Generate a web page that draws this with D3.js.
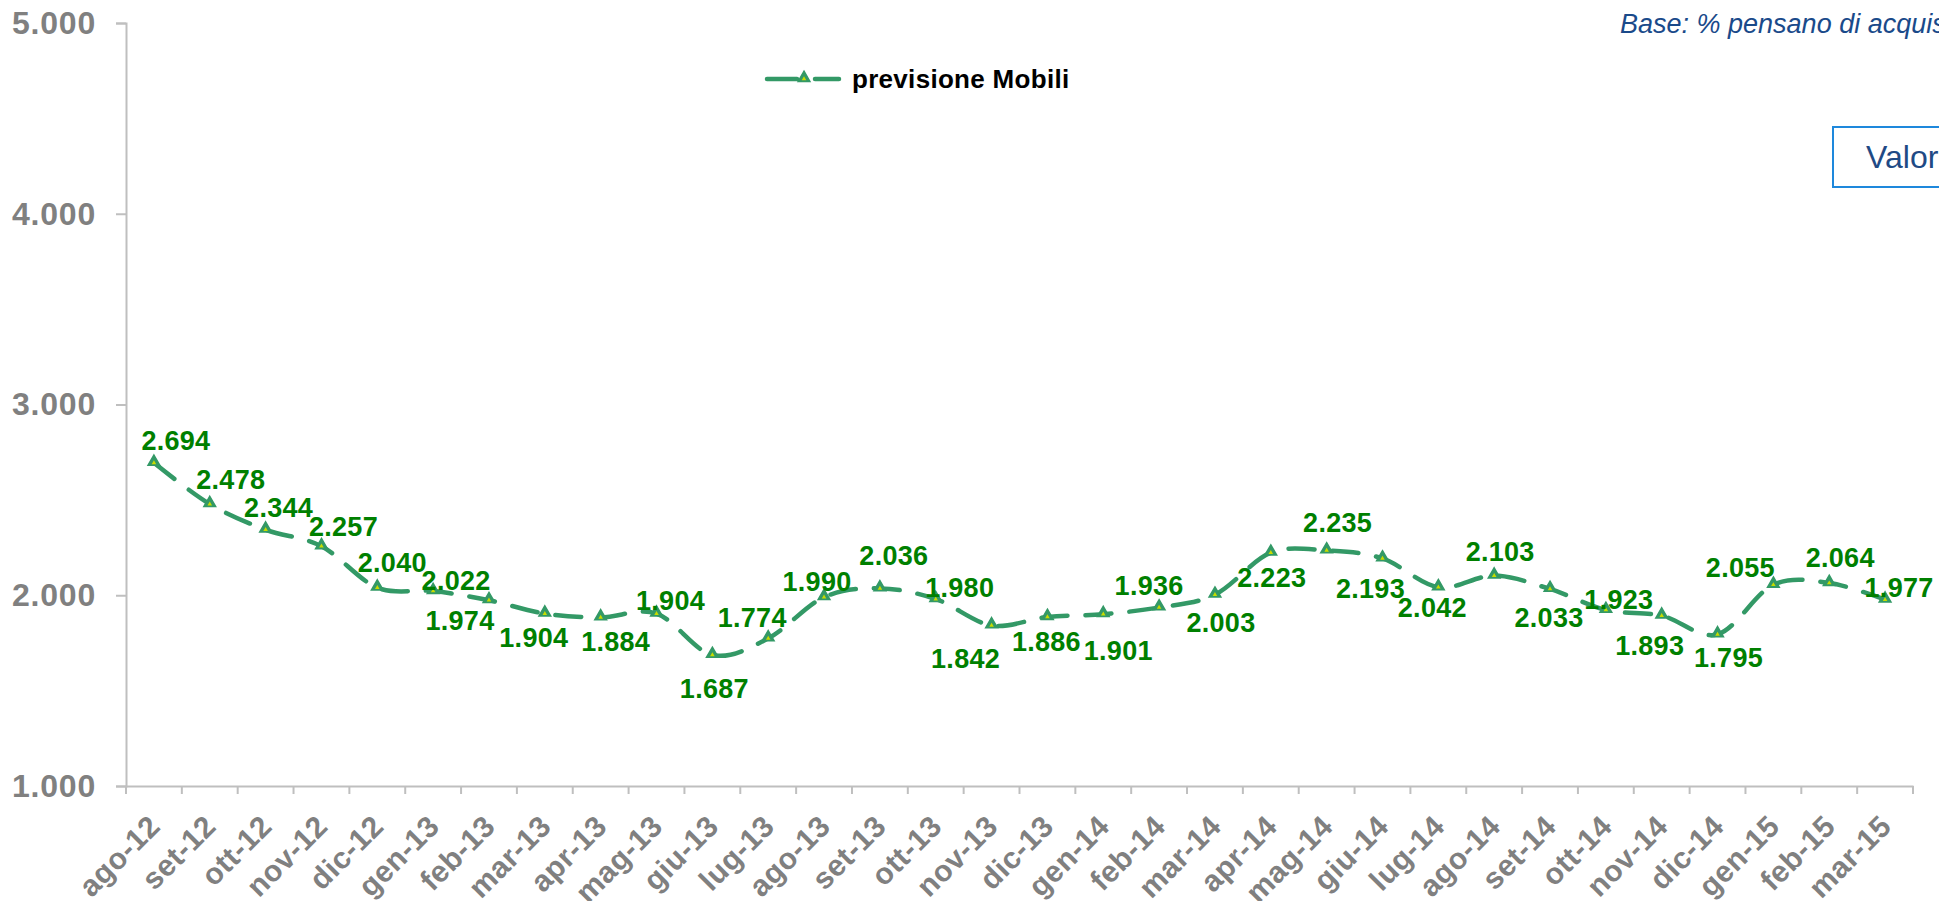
<!DOCTYPE html>
<html>
<head>
  <meta charset="utf-8">
  <script src="https://d3js.org/d3.v7.min.js"></script>
  <style>
    body { margin: 0; background: #fff; overflow: hidden; }
    svg { display: block; font-family: "Liberation Sans", Arial, sans-serif; }
  </style>
</head>
<body>
<script>
  // months on the x axis
  var months = ["ago-12","set-12","ott-12","nov-12","dic-12",
    "gen-13","feb-13","mar-13","apr-13","mag-13","giu-13","lug-13","ago-13","set-13","ott-13","nov-13","dic-13",
    "gen-14","feb-14","mar-14","apr-14","mag-14","giu-14","lug-14","ago-14","set-14","ott-14","nov-14","dic-14",
    "gen-15","feb-15","mar-15"];

  // previsione Mobili
  var values = [2694, 2478, 2344, 2257, 2040,
    2022, 1974, 1904, 1884, 1904, 1687, 1774, 1990, 2036, 1980, 1842, 1886,
    1901, 1936, 2003, 2223, 2235, 2193, 2042, 2103, 2033, 1923, 1893, 1795,
    2055, 2064, 1977];

  var yTicks = [1000, 2000, 3000, 4000, 5000];

  // where each value label sits relative to its point (dx, dy)
  var labelNudge = [[22,-23],[21,-25],[13,-23],[22,-20],[15,-26],
    [23,-11],[-29,20],[-11,23],[15,24],[14,-14],[2,33],[-16,-21],[-7,-16],[14,-33],[24,-12],[-26,33],[-1,24],
    [15,36],[-10,-22],[6,27],[1,24],[11,-28],[-12,30],[-6,20],[6,-25],[-1,28],[13,-11],[-12,29],[11,23],
    [-33,-18],[11,-26],[14,-13]];

  var W = 1939, H = 901;
  var plotL = 126, plotR = 1913, plotT = 23, plotB = 786;

  var it = d3.formatLocale({decimal: ",", thousands: ".", grouping: [3], currency: ["€", ""]});
  var fmt = it.format(",d");

  var lineColor = "#339966", axisColor = "#bfbfbf", tickText = "#808080";

  var svg = d3.select("body").append("svg")
    .attr("width", W).attr("height", H);

  var x = d3.scaleBand().domain(months).range([plotL, plotR]);
  var y = d3.scaleLinear().domain([1000, 5000]).range([plotB, plotT]);

  // y axis
  var yAxis = svg.append("g")
    .attr("transform", "translate(" + plotL + ",0)")
    .call(d3.axisLeft(y).tickValues(yTicks).tickSize(10).tickPadding(20).tickFormat(fmt));
  yAxis.select(".domain").attr("stroke", axisColor).attr("stroke-width", 2);
  yAxis.selectAll(".tick line").attr("stroke", axisColor).attr("stroke-width", 2);
  yAxis.selectAll(".tick text")
    .attr("fill", tickText)
    .style("font-size", "32px")
    .style("letter-spacing", "0.8px")
    .style("font-weight", "bold");

  // x axis
  var xAxis = svg.append("g")
    .attr("transform", "translate(0," + plotB + ")")
    .call(d3.axisBottom(x).tickSize(0).tickSizeOuter(0));
  xAxis.select(".domain").attr("stroke", axisColor).attr("stroke-width", 2);
  xAxis.selectAll(".tick text")
    .attr("fill", tickText)
    .attr("x", 0).attr("y", 0).attr("dy", 0)
    .attr("transform", "translate(8,42) rotate(-45)")
    .style("text-anchor", "end")
    .style("font-size", "30px")
    .style("letter-spacing", "0.5px")
    .style("font-weight", "bold");

  // tick marks between categories
  var bounds = months.map(function(m) { return x(m); }).concat([x(months[months.length - 1]) + x.bandwidth()]);
  svg.append("g").selectAll("line").data(bounds).enter().append("line")
    .attr("x1", function(d) { return d; }).attr("x2", function(d) { return d; })
    .attr("y1", plotB).attr("y2", plotB + 8)
    .attr("stroke", axisColor).attr("stroke-width", 2);

  var cx = function(d, i) { return x(months[i]) + x.bandwidth() / 2; };

  // smoothed dashed line
  var line = d3.line()
    .x(function(d, i) { return cx(d, i); })
    .y(function(d) { return y(d); })
    .curve(d3.curveCatmullRom.alpha(0));

  svg.append("path")
    .datum(values)
    .attr("d", line)
    .attr("fill", "none")
    .attr("stroke", lineColor)
    .attr("stroke-width", 4.5)
    .attr("stroke-linecap", "round")
    .attr("stroke-dasharray", "26,18");

  var tri = d3.symbol().type(d3.symbolTriangle).size(60);
  var dot = d3.symbol().type(d3.symbolTriangle).size(9);

  function marker(g) {
    g.append("path").attr("d", tri)
      .attr("fill", lineColor).attr("stroke", lineColor).attr("stroke-width", 1.5);
    g.append("path").attr("d", dot).attr("transform", "translate(0,1)")
      .attr("fill", "#c8dc00");
  }

  svg.append("g").selectAll("g").data(values).enter().append("g")
    .attr("transform", function(d, i) { return "translate(" + cx(d, i) + "," + (y(d) - 1) + ")"; })
    .call(marker);

  // value labels
  svg.append("g").selectAll("text").data(values).enter().append("text")
    .attr("x", function(d, i) { return cx(d, i) + labelNudge[i][0]; })
    .attr("y", function(d, i) { return y(d) + labelNudge[i][1] + 10; })
    .attr("text-anchor", "middle")
    .attr("fill", "#008000")
    .style("font-size", "27px")
    .style("letter-spacing", "0.3px")
    .style("font-weight", "bold")
    .text(function(d) { return fmt(d); });

  // legend
  var lg = svg.append("g");
  lg.append("line")
    .attr("x1", 767).attr("x2", 839).attr("y1", 79).attr("y2", 79)
    .attr("stroke", lineColor).attr("stroke-width", 4.5)
    .attr("stroke-linecap", "round")
    .attr("stroke-dasharray", "30,18");
  lg.append("g")
    .attr("transform", "translate(804,78)")
    .call(marker);
  lg.append("text")
    .attr("x", 852).attr("y", 88)
    .style("font-size", "26px").style("font-weight", "bold")
    .style("letter-spacing", "0.3px")
    .attr("fill", "#000")
    .text("previsione Mobili");

  // note top right
  svg.append("text")
    .attr("x", 1620).attr("y", 33)
    .style("font-size", "27px").style("font-style", "italic")
    .attr("fill", "#1a4a8a")
    .text("Base: % pensano di acquistare");

  svg.append("rect")
    .attr("x", 1833).attr("y", 127).attr("width", 140).attr("height", 60)
    .attr("fill", "#fff").attr("stroke", "#1e88dc").attr("stroke-width", 2);
  svg.append("text")
    .attr("x", 1866).attr("y", 168)
    .style("font-size", "32px")
    .attr("fill", "#1f4a85")
    .text("Valori");
</script>
</body>
</html>
